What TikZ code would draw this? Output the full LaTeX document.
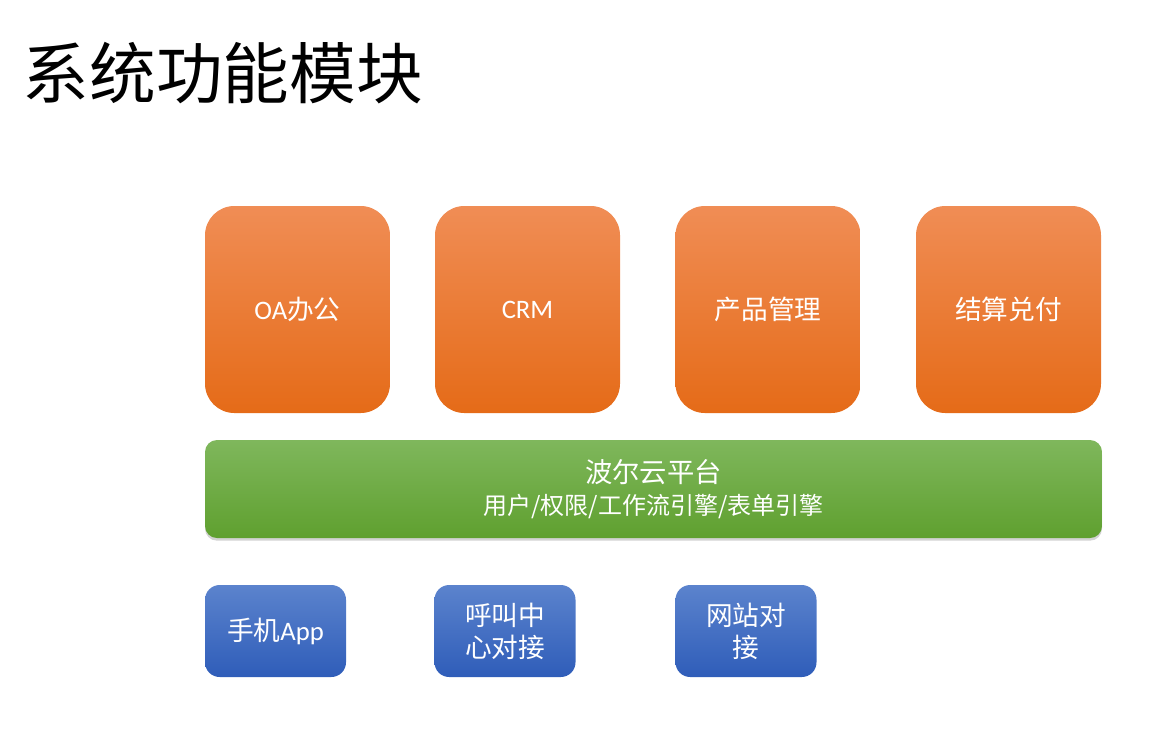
\documentclass[tikz,border=0pt]{standalone}
\usepackage{fontspec}
\setmainfont{Noto Sans CJK SC}
\newfontfamily\latinfont{Carlito}
\usetikzlibrary{shadows}
\definecolor{orangetop}{HTML}{F08D55}
\definecolor{orangemid}{HTML}{F47D2C}
\definecolor{orangebot}{HTML}{E56B18}
\definecolor{greentop}{HTML}{7FB75C}
\definecolor{greenbot}{HTML}{5FA02F}
\definecolor{bluetop}{HTML}{5B83CD}
\definecolor{bluebot}{HTML}{2F5DB9}

\begin{document}
\begin{tikzpicture}[x=0.75pt,y=-0.75pt,
  module/.style={rectangle,rounded corners=22pt,minimum width=138.75pt,minimum height=155.25pt,
    top color=orangetop,middle color=orangemid,bottom color=orangebot,text=white,font=\fontsize{20}{24}\selectfont},
  platform/.style={rectangle,rounded corners=9pt,minimum width=672.75pt,minimum height=73.5pt,
    top color=greentop,bottom color=greenbot,text=white,align=center,font=\fontsize{18}{24}\selectfont,
    drop shadow={shadow xshift=0pt,shadow yshift=-2pt,opacity=0.35}},
  channel/.style={rectangle,rounded corners=11pt,minimum width=105.75pt,minimum height=69pt,
    top color=bluetop,bottom color=bluebot,text=white,align=center,font=\fontsize{20}{24}\selectfont}]
  \useasboundingbox (0,0) rectangle (1168,744);
  % title
  \node[anchor=west,font=\fontsize{50}{60}\selectfont] (title) at (18,73) {系统功能模块};
  % modules
  \node[module] (oa) at (297.5,309.5) {{\latinfont OA}办公};
  \node[module] (crm) at (527.5,309.5) {\latinfont CRM};
  \node[module] (product) at (768,309.5) {产品管理};
  \node[module] (settle) at (1008.5,309.5) {结算兑付};
  % platform
  \node[platform] (cloud) at (653.5,489) {{\fontsize{20.5}{24}\selectfont 波尔云平台}\\
    {\fontsize{18}{24}\selectfont 用户/权限/工作流引擎/表单引擎}};
  % channels
  \node[channel] (app) at (275.5,631) {手机{\latinfont App}};
  \node[channel] (call) at (505,631) {呼叫中\\心对接};
  \node[channel] (web) at (746,631) {网站对\\接};
\end{tikzpicture}
\end{document}
